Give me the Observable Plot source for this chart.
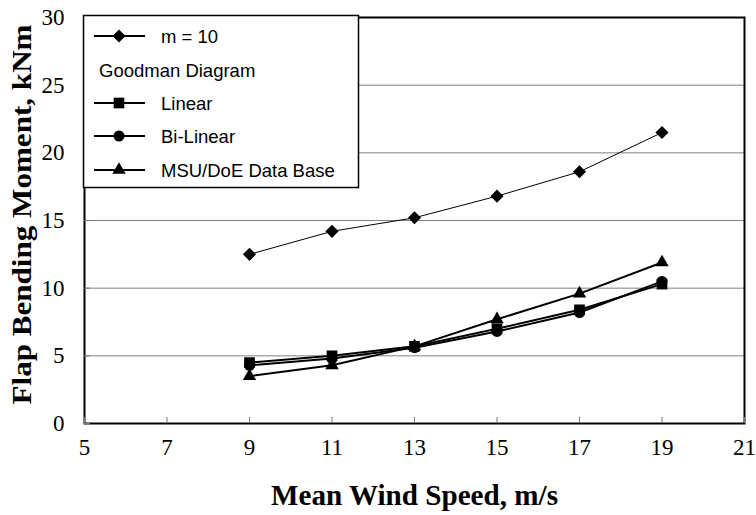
<!DOCTYPE html>
<html><head><meta charset="utf-8">
<script src="https://cdn.jsdelivr.net/npm/d3@7"></script>
<script src="https://cdn.jsdelivr.net/npm/@observablehq/plot@0.6"></script>
<style>body{margin:0;background:#fff}</style>
</head><body><div id="chart"></div>
<script>
// ---- data ----
const windSpeed = [9, 11, 13, 15, 17, 19];
const m10      = [12.5, 14.2, 15.2, 16.8, 18.6, 21.5];
const linear   = [4.5, 5.0, 5.7, 7.0, 8.4, 10.3];
const biLinear = [4.3, 4.8, 5.6, 6.8, 8.2, 10.5];
const msuDoe   = [3.5, 4.3, 5.7, 7.7, 9.6, 11.9];
const seriesNames = ["m = 10", "Linear", "Bi-Linear", "MSU/DoE Data Base"];
const legendHeading = "Goodman Diagram";
const xTicks = [5, 7, 9, 11, 13, 15, 17, 19, 21];
const yTicks = [0, 5, 10, 15, 20, 25, 30];
const gridValues = [5, 10, 15, 20, 25];
const xTitle = "Mean Wind Speed, m/s";
const yTitle = "Flap Bending Moment, kNm";

const rows = (vals, name) => windSpeed.map((x, i) => ({x, y: vals[i], series: name}));
const dM10 = rows(m10, seriesNames[0]);
const dLin = rows(linear, seriesNames[1]);
const dBi = rows(biLinear, seriesNames[2]);
const dMsu = rows(msuDoe, seriesNames[3]);

// marker styles
const markers = [
  {symbol: "diamond2", r: 5.9},
  {symbol: "square2", r: 6.8},
  {symbol: "circle", r: 5.5},
  {symbol: "triangle2", r: 6.4}
];
const lineWidths = [1, 2, 2, 2];
const datasets = [dM10, dLin, dBi, dMsu];

const serif = "'Liberation Serif', 'Times New Roman', serif";
const sans = "'Liberation Sans', Arial, sans-serif";

const marks = [
  Plot.ruleY(gridValues, {stroke: "#808080", strokeWidth: 1})
];
datasets.forEach((d, i) => {
  marks.push(Plot.line(d, {x: "x", y: "y", stroke: "black", strokeWidth: lineWidths[i]}));
});
datasets.forEach((d, i) => {
  marks.push(Plot.dot(d, {x: "x", y: "y", fill: "black", stroke: "none", symbol: markers[i].symbol, r: markers[i].r}));
});
marks.push(
  Plot.frame({stroke: "black", strokeWidth: 2}),
  Plot.axisX(xTicks, {tickSize: -6, tickPadding: 21, stroke: "#777", fill: "black", fontSize: 23, label: null}),
  Plot.axisY(yTicks, {tickSize: -6, tickPadding: 26, stroke: "#777", fill: "black", fontSize: 23, label: null}),
  Plot.text([xTitle], {text: d => d, frameAnchor: "bottom", dy: 72, lineAnchor: "middle", fontSize: 29, fontWeight: "bold", className: "xtitle"}),
  Plot.text([yTitle], {text: d => d, frameAnchor: "left", dx: -62, dy: -6, rotate: -90, textAnchor: "middle", lineAnchor: "middle", fontSize: 27, fontWeight: "bold", className: "ytitle"})
);

const chart = Plot.plot({
  width: 756,
  height: 515,
  marginLeft: 84,
  marginRight: 12,
  marginTop: 17,
  marginBottom: 92,
  x: {domain: [5, 21]},
  y: {domain: [0, 30]},
  style: {fontFamily: serif, fontSize: "23px", background: "white", color: "black"},
  marks
});
document.getElementById("chart").appendChild(chart);

const svg = d3.select(chart);
// the reference's titles are slightly condensed / stretched
svg.selectAll(".ytitle text").attr("textLength", 380).attr("lengthAdjust", "spacingAndGlyphs");
svg.selectAll(".xtitle text").attr("textLength", 287).attr("lengthAdjust", "spacingAndGlyphs");

// ---- legend (inside plot, top-left) ----
const lg = svg.append("g").attr("font-family", sans).attr("font-size", 18.5)
  .attr("fill", "black").attr("text-anchor", "start");
lg.append("rect").attr("x", 83.5).attr("y", 15.5).attr("width", 275).attr("height", 172)
  .attr("fill", "white").attr("stroke", "black").attr("stroke-width", 1.5);
const symMap = {diamond2: d3.symbolDiamond2, square2: d3.symbolSquare2, circle: d3.symbolCircle, triangle2: d3.symbolTriangle2};
const entryYs = [36, 103, 136, 170];
seriesNames.forEach((name, i) => {
  const y = entryYs[i];
  lg.append("line").attr("x1", 94).attr("x2", 145).attr("y1", y).attr("y2", y)
    .attr("stroke", "black").attr("stroke-width", 2);
  const m = markers[i];
  lg.append("path").attr("transform", `translate(119,${y})`)
    .attr("d", d3.symbol(symMap[m.symbol], Math.PI * m.r * m.r)()).attr("fill", "black");
  lg.append("text").attr("x", 161).attr("y", y).attr("dominant-baseline", "central")
    .attr("text-anchor", "start").text(name);
});
lg.append("text").attr("x", 99).attr("y", 70).attr("dominant-baseline", "central")
  .attr("text-anchor", "start").text(legendHeading);
</script>
</body></html>
